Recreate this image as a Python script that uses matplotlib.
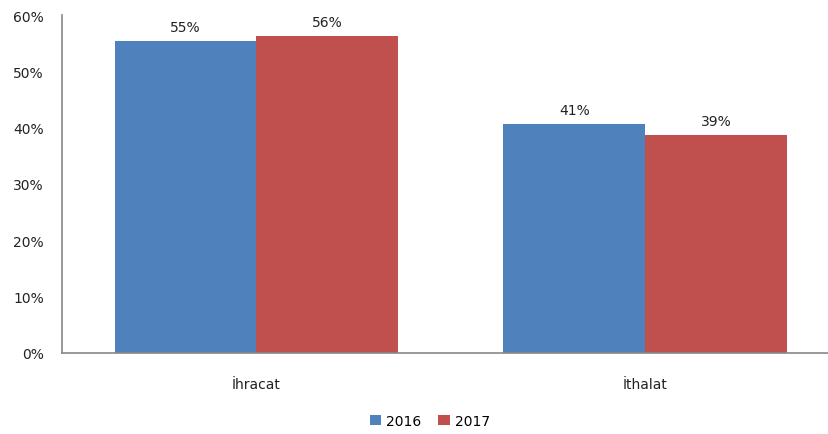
import matplotlib
matplotlib.use("Agg")
import matplotlib.pyplot as plt
import numpy as np

plt.rcParams["font.family"] = ["DejaVu Sans"]

categories = ["İhracat", "İthalat"]
series_names = ["2016", "2017"]
values_2016 = [55.4, 40.6]
values_2017 = [56.2, 38.7]
yticks = [0, 10, 20, 30, 40, 50, 60]

colors = ["#4F81BD", "#C0504D"]
fs = 10

fig = plt.figure(figsize=(8.29, 4.35), dpi=100)
W, H = 829, 435
ax = fig.add_axes([62 / W, 1 - 354 / H, (829 - 62) / W, (354 - 16) / H])

x = np.arange(len(categories))
w = 0.365
bars1 = ax.bar(x - w / 2, values_2016, w, color=colors[0], label=series_names[0])
bars2 = ax.bar(x + w / 2, values_2017, w, color=colors[1], label=series_names[1])

for bars in (bars1, bars2):
    for b in bars:
        v = b.get_height()
        ax.annotate(f"{int(v + 0.5)}%", (b.get_x() + b.get_width() / 2, v),
                    xytext=(0, 5), textcoords="offset points",
                    ha="center", va="bottom", fontsize=fs, color="#222222")

ax.set_xlim(-0.5, 1.472)
ax.set_ylim(0, 60)
ax.set_yticks(yticks)
ax.set_yticklabels([f"{t}%" for t in yticks], fontsize=fs, color="#222222")
ax.set_xticks(x)
ax.set_xticklabels(categories, fontsize=fs, color="#222222")
ax.tick_params(axis="x", length=0, pad=17)
ax.tick_params(axis="y", length=0, pad=13)
for s in ["top", "right"]:
    ax.spines[s].set_visible(False)
for s in ["left", "bottom"]:
    ax.spines[s].set_color("#888888")
    ax.spines[s].set_linewidth(1.2)

fig.legend(handles=[bars1, bars2], labels=series_names, loc="center",
           bbox_to_anchor=(430 / W, 1 - 422 / H), ncol=2, frameon=False,
           fontsize=fs, handlelength=0.8, handleheight=0.8, handletextpad=0.4,
           columnspacing=1.2)

fig.savefig("out.png", dpi=100)
